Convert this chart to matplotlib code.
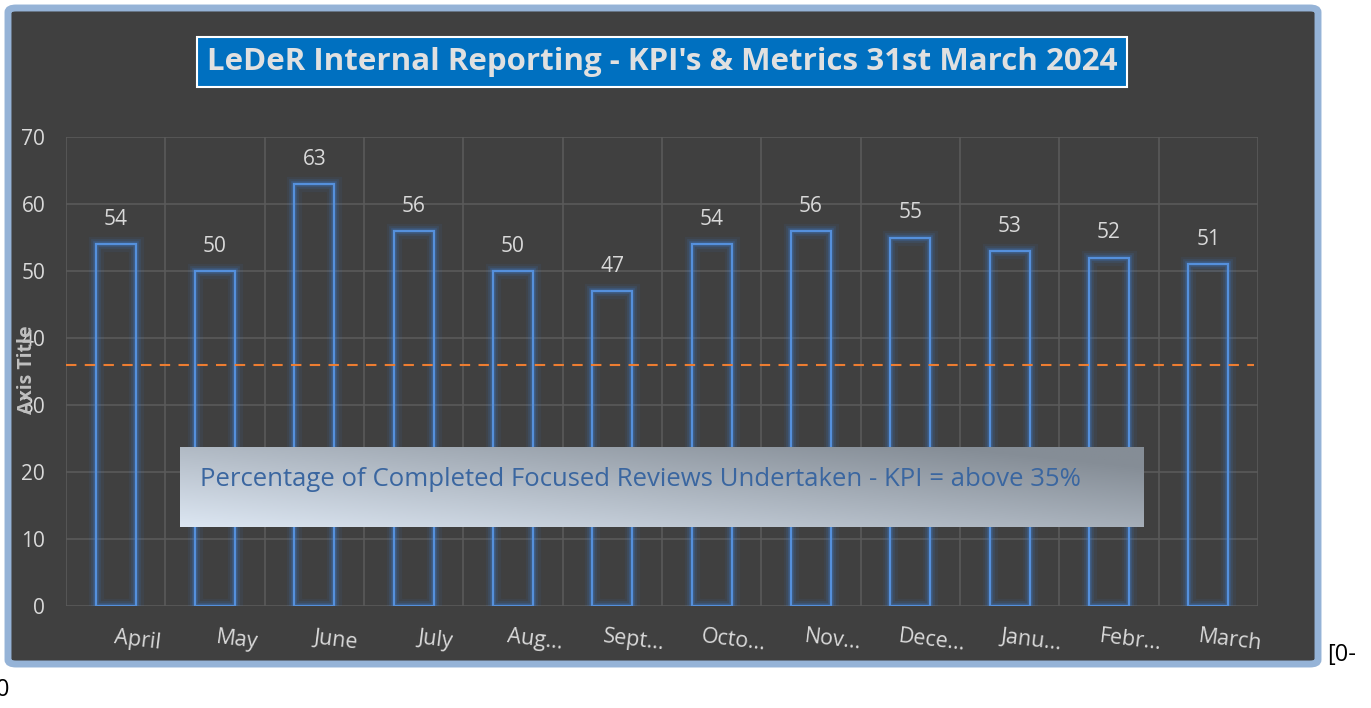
import numpy as np
import matplotlib
matplotlib.use("Agg")
import matplotlib.pyplot as plt
from matplotlib.patches import FancyBboxPatch
from matplotlib.transforms import ScaledTranslation

months = ["April", "May", "June", "July", "Aug...", "Sept...", "Octo...",
          "Nov...", "Dece...", "Janu...", "Febr...", "March"]
values = [54, 50, 63, 56, 50, 47, 54, 56, 55, 53, 52, 51]
kpi_line = 36

title = "LeDeR Internal Reporting - KPI's & Metrics 31st March 2024"
note = "Percentage of Completed Focused Reviews Undertaken - KPI = above 35%"

plt.rcParams['font.family'] = ['Open Sans', 'DejaVu Sans']

W, H = 1371, 708
fig = plt.figure(figsize=(W / 100, H / 100), dpi=100)
fig.patch.set_facecolor("white")


def fx(px):
    return px / W


def fy(py):
    return 1 - py / H


# chart background with light blue rounded border
bg = FancyBboxPatch((fx(8), fy(664)), fx(1310), 656 / H,
                    boxstyle="round,pad=0,rounding_size=0.006",
                    transform=fig.transFigure, facecolor="#404040",
                    edgecolor="#95b3d7", linewidth=5, zorder=-5)
fig.patches.append(bg)

ax = fig.add_axes([fx(66), fy(606), fx(1258 - 66), (606 - 137) / H])
ax.set_facecolor("none")
x = np.arange(len(months))

# glow around bars
for lw, a in [(11, 0.08), (7, 0.14), (4, 0.25)]:
    ax.bar(x, values, width=0.4, facecolor="none", edgecolor="#3d7fd6",
           linewidth=lw, alpha=a, zorder=3)
ax.bar(x, values, width=0.4, facecolor="none", edgecolor="#5590dc",
       linewidth=1.6, zorder=4)

for xi, v in zip(x, values):
    ax.text(xi, v + 3.7, str(v), ha="center", va="center",
            color="#d9d9d9", fontsize=15)

ax.axhline(kpi_line, color="#ed7d31", linestyle=(0, (5, 4)), linewidth=1.5,
           xmin=0, xmax=0.997, zorder=5)

ax.set_xlim(-0.5, len(months) - 0.5)
ax.set_ylim(0, 70)
ax.set_yticks(range(0, 71, 10))
ax.set_xticks(np.arange(-0.5, len(months), 1))
ax.set_xticklabels([])
ax.grid(True, color="#5a5a5a", linewidth=1.2, zorder=1)
ax.set_axisbelow(True)
for s in ax.spines.values():
    s.set_visible(False)
ax.tick_params(axis="both", length=0, colors="#d9d9d9", labelsize=15, pad=15)

offset = ScaledTranslation(0.22, 0, fig.dpi_scale_trans)
for xi, m in zip(x, months):
    ax.text(xi, -5.1, m, ha="center", va="center", rotation=-7,
            color="#d9d9d9", fontsize=15.5,
            transform=ax.transData + offset, clip_on=False)

fig.text(fx(27), fy(370), "Axis Title", rotation=90, ha="center",
         va="center", color="#bfbfbf", fontsize=14, fontweight="bold")

# title box
fig.text(fx(662), fy(62), title, ha="center", va="center", fontsize=22.5,
         fontweight="bold", color="#e0e0e0",
         bbox=dict(boxstyle="square,pad=0.32", facecolor="#0070c0",
                   edgecolor="white", linewidth=1.5))

# gradient note box
nax = fig.add_axes([fx(180), fy(527), fx(1144 - 180), (527 - 447) / H])
gx, gy = np.meshgrid(np.linspace(0, 1, 200), np.linspace(0, 1, 50))
t = np.clip(0.75 * gx + 0.6 * gy, 0, 1.2) / 1.2
c0 = np.array([0xdc, 0xe6, 0xf2]) / 255
c1 = np.array([0x85, 0x8d, 0x96]) / 255
img = c0[None, None, :] * (1 - t[..., None]) + c1[None, None, :] * t[..., None]
nax.imshow(img, origin="lower", aspect="auto", extent=[0, 1, 0, 1])
nax.set_axis_off()
nax.text(0.021, 0.6, note, ha="left", va="center", color="#3a66a0",
         fontsize=18.5, transform=nax.transAxes)

fig.text(fx(1327), fy(655), "[0-", ha="left", va="center", fontsize=17,
         color="black")
fig.text(fx(-4), fy(690), "0", ha="left", va="center", fontsize=17,
         color="black")

fig.savefig("out.png", dpi=100)
